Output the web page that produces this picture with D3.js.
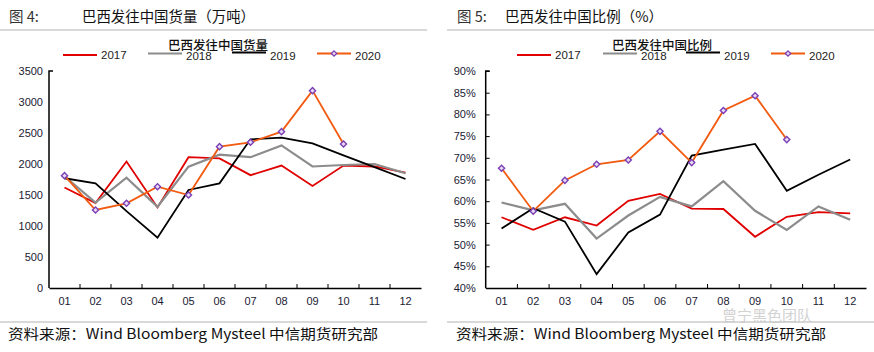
<!DOCTYPE html>
<html><head><meta charset="utf-8">
<script src="https://cdn.jsdelivr.net/npm/d3@7"></script>
<style>body{margin:0;background:#fff}svg{display:block}</style>
</head><body>
<svg id="c" width="874" height="352"></svg>
<script>
const months = ["01","02","03","04","05","06","07","08","09","10","11","12"];
const years = ["2017","2018","2019","2020"];
const colors = ["#e00000","#8c8c8c","#000000","#f25a0f"];
// 巴西发往中国货量（万吨）
const vol2017 = [1620,1370,2040,1300,2110,2090,1820,1975,1645,1975,1960,1860];
const vol2018 = [1800,1376,1780,1310,1957,2150,2110,2300,1960,1984,2000,1850];
const vol2019 = [1770,1688,1240,812,1581,1688,2398,2425,2333,2140,1950,1758];
const vol2020 = [1812,1258,1366,1634,1500,2280,2350,2522,3183,2323];
// 巴西发往中国比例（%）
const pct2017 = [56.3,53.4,56.3,54.4,60.1,61.7,58.3,58.2,51.8,56.4,57.5,57.2];
const pct2018 = [59.7,57.9,59.4,51.4,56.7,61.0,58.8,64.6,57.8,53.4,58.8,55.7];
const pct2019 = [53.7,58.4,55.3,43.2,52.8,56.9,70.5,71.9,73.2,62.4,66.1,69.6];
const pct2020 = [67.6,57.7,64.8,68.5,69.5,76.1,68.9,80.9,84.3,74.2];
const volTicks = [0,500,1000,1500,2000,2500,3000,3500];
const pctTicks = [40,45,50,55,60,65,70,75,80,85,90];

const svg = d3.select("#c");
const cjk = "'Noto Sans CJK SC', sans-serif";
const lat = "'Liberation Sans', Arial, sans-serif";
const marker = d3.symbol(d3.symbolDiamond2, 24)();

function panel(o){
  const g = svg.append("g");
  g.append("text").attr("x",o.hx).attr("y",22).attr("font-family",cjk).attr("font-size",14.5).attr("fill","#333").text(o.fig);
  g.append("text").attr("x",o.tx).attr("y",22).attr("font-family",cjk).attr("font-size",14.5).attr("fill","#111")
    .attr("textLength",o.tw).attr("lengthAdjust","spacingAndGlyphs").text(o.title);
  g.append("line").attr("x1",o.sx1).attr("x2",o.sx2).attr("y1",30).attr("y2",30).attr("stroke","#d9d9d9").attr("stroke-width",2);
  g.append("line").attr("x1",o.sx1).attr("x2",o.sx2).attr("y1",322).attr("y2",322).attr("stroke","#d9d9d9").attr("stroke-width",2);
  g.append("text").attr("x",o.fx).attr("y",339).attr("font-family",cjk).attr("font-size",14).attr("fill","#111")
    .attr("textLength",370).attr("lengthAdjust","spacingAndGlyphs").text("资料来源：Wind Bloomberg Mysteel 中信期货研究部");

  const x = d3.scaleBand().domain(months).range([o.x0,o.x1]);
  const y = d3.scaleLinear().domain(o.dom).range([288,71]);

  g.append("text").attr("x",o.ltx).attr("y",50).attr("text-anchor","middle").attr("font-family",cjk).attr("font-size",12.5).attr("font-weight",500).attr("fill","#111").text(o.ltitle);
  o.leg.forEach((lx,i)=>{
    const ly = [55,53.5,52.5,53.5][i];
    g.append("line").attr("x1",lx).attr("x2",lx+34).attr("y1",ly).attr("y2",ly).attr("stroke",colors[i]).attr("stroke-width",2);
    if(i===3){
      g.append("path").attr("d",d3.symbol(d3.symbolDiamond2,18)()).attr("transform",`translate(${lx+17},${ly})`)
        .attr("fill","#e8dcf5").attr("stroke","#7b3fb5").attr("stroke-width",1.3);
    }
    g.append("text").attr("x",lx+38).attr("y",[59,60,60,60][i]).attr("font-family",lat).attr("font-size",11.5).attr("fill","#222").text(years[i]);
  });

  const ax = g.append("g").attr("transform","translate(0,288)")
    .call(d3.axisBottom(x).tickSize(0).tickPadding(9));
  ax.select(".domain").attr("stroke","#000").attr("stroke-width",1.5);
  ax.selectAll("text").attr("font-family",lat).attr("font-size",11).attr("fill","#1a1a33");
  g.append("g").selectAll("line").data(months.slice(1)).join("line")
    .attr("x1",d=>x(d)).attr("x2",d=>x(d)).attr("y1",288).attr("y2",284).attr("stroke","#000").attr("stroke-width",1);

  const ay = g.append("g").attr("transform",`translate(${o.x0},0)`)
    .call(d3.axisLeft(y).tickValues(o.ticks).tickSize(o.yTickIn? -4:0).tickPadding(o.yTickIn?10:6).tickFormat(o.fmt));
  ay.select(".domain").attr("stroke","#000").attr("stroke-width",1.5).attr("d",`M4,71H0V288`);
  ay.selectAll(".tick line").attr("stroke","#000");
  ay.selectAll("text").attr("font-family",lat).attr("font-size",11).attr("fill","#1a1a33");

  const line = d3.line().x((d,i)=>x(months[i])+x.bandwidth()/2).y(d=>y(d));
  o.series.forEach((s,i)=>{
    g.append("path").datum(s).attr("d",line).attr("fill","none").attr("stroke",colors[i]).attr("stroke-width",i===1?2.2:1.8).attr("stroke-linejoin","miter");
  });
  g.append("g").selectAll("path").data(o.series[3]).join("path")
    .attr("d",marker)
    .attr("transform",(d,i)=>`translate(${x(months[i])+x.bandwidth()/2},${y(d)})`)
    .attr("fill","#e8dcf5").attr("stroke","#7b3fb5").attr("stroke-width",1.4);
}

panel({hx:9,fig:"图 4:",tx:82,tw:173,title:"巴西发往中国货量（万吨）",sx1:0,sx2:427,fx:8,
  x0:49,x1:421,dom:[0,3500],ticks:volTicks,fmt:d=>d,yTickIn:false,
  ltx:218,ltitle:"巴西发往中国货量",leg:[63,148,232,317],
  series:[vol2017,vol2018,vol2019,vol2020]});
panel({hx:457,fig:"图 5:",tx:505,tw:158,title:"巴西发往中国比例（%）",sx1:447,sx2:874,fx:456,
  x0:485.7,x1:866,dom:[40,90],ticks:pctTicks,fmt:d=>d+"%",yTickIn:true,
  ltx:662,ltitle:"巴西发往中国比例",leg:[517,603,686,771],
  series:[pct2017,pct2018,pct2019,pct2020]});

svg.append("text").attr("x",722).attr("y",321).attr("font-family",cjk).attr("font-size",15).attr("fill","#c8c8c8").attr("opacity",0.8).text("曾宁黑色团队");
</script>
</body></html>
